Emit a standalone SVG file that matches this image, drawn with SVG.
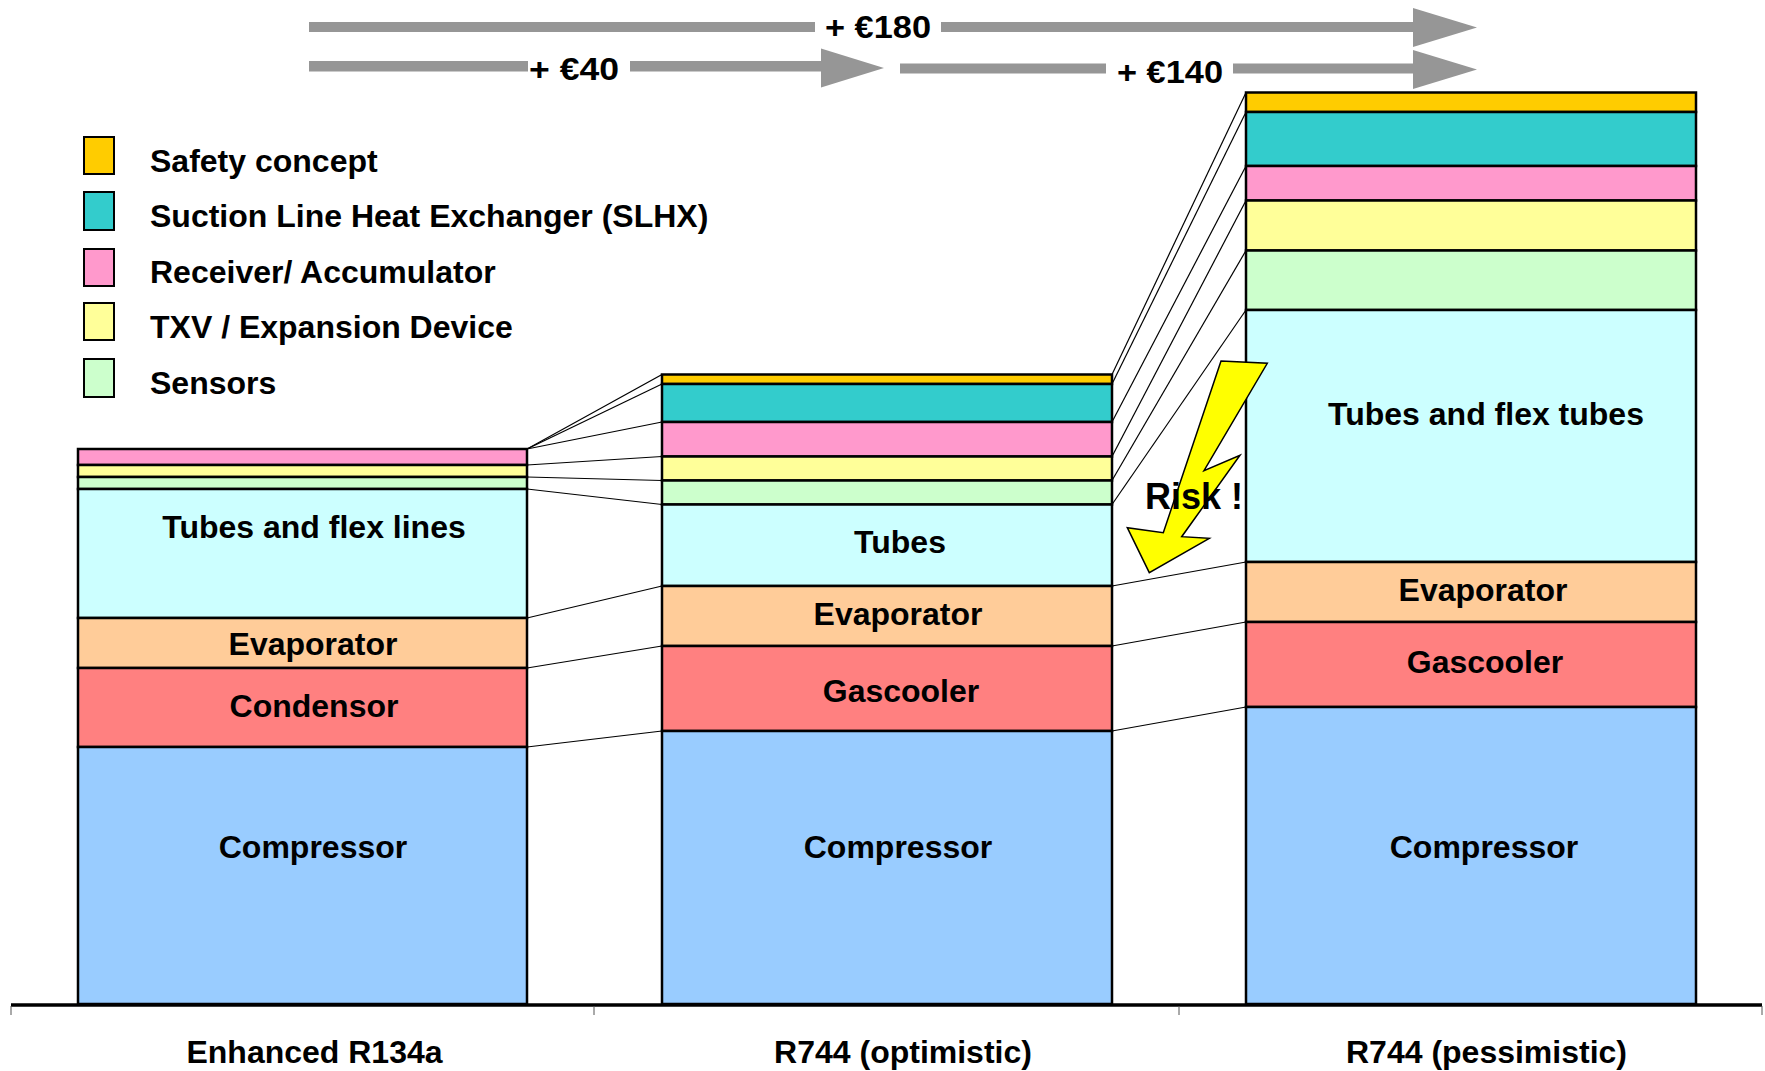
<svg xmlns="http://www.w3.org/2000/svg" width="1765" height="1071" viewBox="0 0 1765 1071">
<style>
text{font-family:"Liberation Sans",Arial,sans-serif;font-weight:bold;fill:#000}
.lbl{font-size:32px;text-anchor:middle}
.leg{font-size:32px}
.cost{font-size:32px}
.bar rect{stroke:#000;stroke-width:2.5}
.sw{stroke:#000;stroke-width:2}
.safety{fill:#FFCC00}.slhx{fill:#33CCCC}.recv{fill:#FF99CC}.txv{fill:#FFFF99}.sens{fill:#CCFFCC}
.tubes{fill:#CCFFFF}.evap{fill:#FFCC99}.cond{fill:#FF8080}.comp{fill:#99CCFF}
.arrow{fill:#969696}
#connectors line{stroke:#000;stroke-width:1.2}
</style>
<rect width="1765" height="1071" fill="#fff"/>

<g id="cost-arrows">
  <rect class="arrow" x="309" y="22" width="506" height="10"/>
  <rect class="arrow" x="941" y="22" width="473" height="10"/>
  <polygon class="arrow" points="1413,8 1477,27.5 1413,47"/>
  <rect class="arrow" x="309" y="61" width="219" height="10.5"/>
  <rect class="arrow" x="630" y="61" width="192" height="10.5"/>
  <polygon class="arrow" points="821,48.5 884,68 821,87.5"/>
  <rect class="arrow" x="900" y="63.5" width="206" height="10"/>
  <rect class="arrow" x="1233" y="63.5" width="181" height="10"/>
  <polygon class="arrow" points="1413,50 1477,69.5 1413,89"/>
  <text class="cost" x="825" y="38" textLength="106" lengthAdjust="spacingAndGlyphs">+ €180</text>
  <text class="cost" x="529" y="80" textLength="90" lengthAdjust="spacingAndGlyphs">+ €40</text>
  <text class="cost" x="1117" y="83" textLength="106" lengthAdjust="spacingAndGlyphs">+ €140</text>
</g>

<g id="legend">
  <g id="legend-safety"><rect class="sw safety" x="84" y="137" width="30" height="37"/><text class="leg" x="150" y="172">Safety concept</text></g>
  <g id="legend-slhx"><rect class="sw slhx" x="84" y="192" width="30" height="38"/><text class="leg" x="150" y="227">Suction Line Heat Exchanger (SLHX)</text></g>
  <g id="legend-receiver"><rect class="sw recv" x="84" y="249" width="30" height="37"/><text class="leg" x="150" y="283">Receiver/ Accumulator</text></g>
  <g id="legend-txv"><rect class="sw txv" x="84" y="303" width="30" height="37"/><text class="leg" x="150" y="338">TXV / Expansion Device</text></g>
  <g id="legend-sensors"><rect class="sw sens" x="84" y="359" width="30" height="38"/><text class="leg" x="150" y="394">Sensors</text></g>
</g>

<g id="connectors">
  <line x1="527" y1="747" x2="662" y2="731"/>
  <line x1="527" y1="668" x2="662" y2="646"/>
  <line x1="527" y1="618" x2="662" y2="586"/>
  <line x1="527" y1="489" x2="662" y2="504.5"/>
  <line x1="527" y1="477" x2="662" y2="480.5"/>
  <line x1="527" y1="465" x2="662" y2="456.5"/>
  <line x1="527" y1="449" x2="662" y2="422"/>
  <line x1="527" y1="449" x2="662" y2="384"/>
  <line x1="527" y1="449" x2="662" y2="374.5"/>
  <line x1="1112" y1="731" x2="1246" y2="707"/>
  <line x1="1112" y1="646" x2="1246" y2="622"/>
  <line x1="1112" y1="586" x2="1246" y2="562"/>
  <line x1="1112" y1="504.5" x2="1246" y2="310"/>
  <line x1="1112" y1="480.5" x2="1246" y2="250.5"/>
  <line x1="1112" y1="456.5" x2="1246" y2="200.5"/>
  <line x1="1112" y1="422" x2="1246" y2="166"/>
  <line x1="1112" y1="384" x2="1246" y2="112"/>
  <line x1="1112" y1="374.5" x2="1246" y2="92.5"/>
</g>

<g id="bar-r134a" class="bar">
  <rect class="recv" x="78" y="449" width="449" height="16"/>
  <rect class="txv" x="78" y="465" width="449" height="12"/>
  <rect class="sens" x="78" y="477" width="449" height="12"/>
  <rect class="tubes" x="78" y="489" width="449" height="129"/>
  <rect class="evap" x="78" y="618" width="449" height="50"/>
  <rect class="cond" x="78" y="668" width="449" height="79"/>
  <rect class="comp" x="78" y="747" width="449" height="257"/>
  <text class="lbl" x="314" y="538">Tubes and flex lines</text>
  <text class="lbl" x="313" y="655">Evaporator</text>
  <text class="lbl" x="314" y="717">Condensor</text>
  <text class="lbl" x="313" y="858">Compressor</text>
</g>

<g id="bar-r744-optimistic" class="bar">
  <rect class="safety" x="662" y="374.5" width="450" height="9.5"/>
  <rect class="slhx" x="662" y="384" width="450" height="38"/>
  <rect class="recv" x="662" y="422" width="450" height="34.5"/>
  <rect class="txv" x="662" y="456.5" width="450" height="24"/>
  <rect class="sens" x="662" y="480.5" width="450" height="24"/>
  <rect class="tubes" x="662" y="504.5" width="450" height="81.5"/>
  <rect class="evap" x="662" y="586" width="450" height="60"/>
  <rect class="cond" x="662" y="646" width="450" height="85"/>
  <rect class="comp" x="662" y="731" width="450" height="273"/>
  <text class="lbl" x="900" y="553">Tubes</text>
  <text class="lbl" x="898" y="625">Evaporator</text>
  <text class="lbl" x="901" y="702">Gascooler</text>
  <text class="lbl" x="898" y="858">Compressor</text>
</g>

<g id="bar-r744-pessimistic" class="bar">
  <rect class="safety" x="1246" y="92.5" width="450" height="19.5"/>
  <rect class="slhx" x="1246" y="112" width="450" height="54"/>
  <rect class="recv" x="1246" y="166" width="450" height="34.5"/>
  <rect class="txv" x="1246" y="200.5" width="450" height="50"/>
  <rect class="sens" x="1246" y="250.5" width="450" height="59.5"/>
  <rect class="tubes" x="1246" y="310" width="450" height="252"/>
  <rect class="evap" x="1246" y="562" width="450" height="60"/>
  <rect class="cond" x="1246" y="622" width="450" height="85"/>
  <rect class="comp" x="1246" y="707" width="450" height="297"/>
  <text class="lbl" x="1486" y="425">Tubes and flex tubes</text>
  <text class="lbl" x="1483" y="601">Evaporator</text>
  <text class="lbl" x="1485" y="673">Gascooler</text>
  <text class="lbl" x="1484" y="858">Compressor</text>
</g>

<g id="risk">
  <polygon points="1221,361 1267.3,363.3 1204,470.7 1240,455.3 1181.7,536.7 1209.3,538.3 1149.3,572.7 1127.3,527.7 1163.3,532.7" fill="#FFFF00" stroke="#000" stroke-width="1.5" stroke-linejoin="miter"/>
  <text x="1145" y="509" style="font-size:36px">Risk !</text>
</g>

<g id="axis">
  <line x1="11" y1="1005" x2="1762" y2="1005" stroke="#000" stroke-width="3.5"/>
  <g stroke="#555" stroke-width="1">
    <line x1="11" y1="1006" x2="11" y2="1015"/>
    <line x1="594" y1="1006" x2="594" y2="1015"/>
    <line x1="1179" y1="1006" x2="1179" y2="1015"/>
    <line x1="1762" y1="1006" x2="1762" y2="1015"/>
  </g>
  <text class="lbl" x="314.5" y="1063">Enhanced R134a</text>
  <text class="lbl" x="903" y="1063">R744 (optimistic)</text>
  <text class="lbl" x="1486.5" y="1063">R744 (pessimistic)</text>
</g>
</svg>
